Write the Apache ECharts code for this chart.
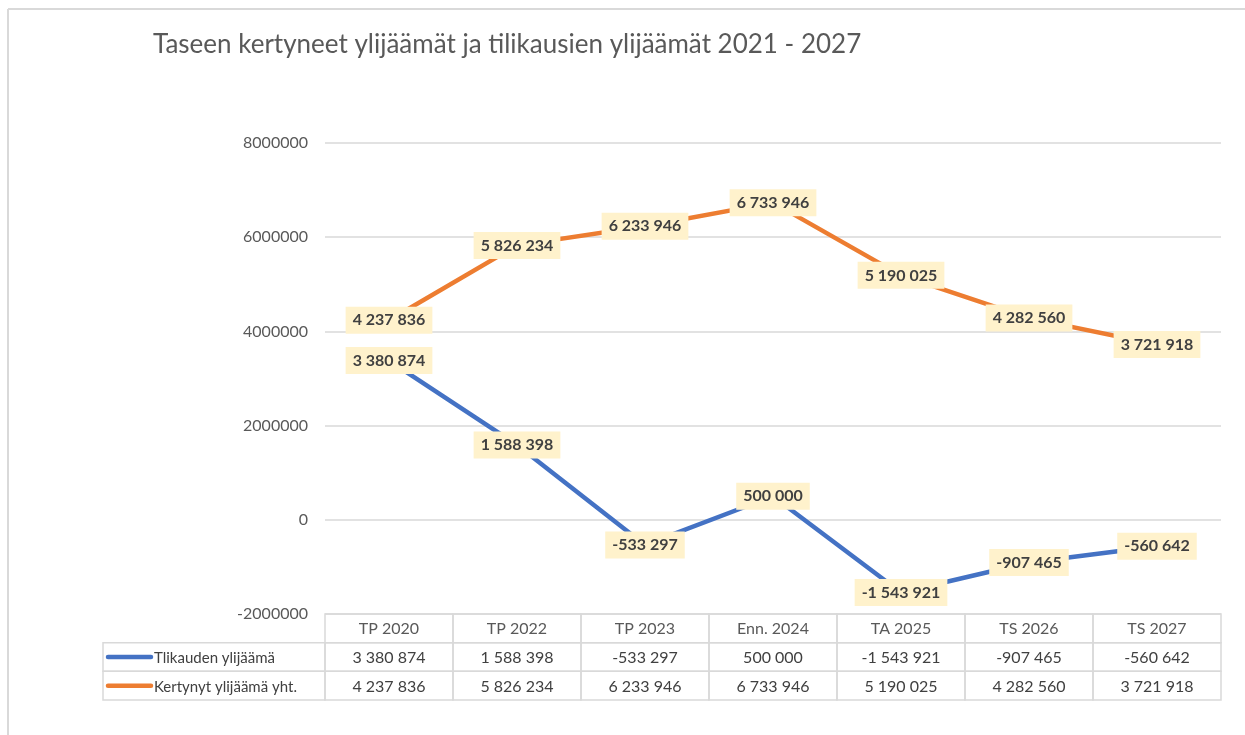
<!DOCTYPE html>
<html lang="fi">
<head>
    <meta charset="UTF-8">
    <title>Taseen kertyneet ylijäämät</title>
    <script src="https://cdn.jsdelivr.net/npm/echarts@6/dist/echarts.min.js"></script>
    <style type="text/css">
        html, body { margin: 0; padding: 0; background: #fff; }
    </style>
</head>
<body>
<div id="main" style="width: 1245px;height:735px;"></div>

<script>
    // data
    var categories = ['TP 2020', 'TP 2022', 'TP 2023', 'Enn. 2024', 'TA 2025', 'TS 2026', 'TS 2027'];
    var seriesNames = ['Tlikauden ylijäämä', 'Kertynyt ylijäämä yht.'];
    var tilikausi = [3380874, 1588398, -533297, 500000, -1543921, -907465, -560642];
    var kertynyt = [4237836, 5826234, 6233946, 6733946, 5190025, 4282560, 3721918];
    var yTicks = [-2000000, 0, 2000000, 4000000, 6000000, 8000000];

    var colors = ['#4472C4', '#ED7D31'];
    var font = 'Lato, "Liberation Sans", sans-serif';

    // 1 234 567 muotoilu
    function fmt(v) {
        var s = Math.abs(v).toString().replace(/\B(?=(\d{3})+(?!\d))/g, ' ');
        return (v < 0 ? '-' : '') + s;
    }

    // taulukon solut: [sarake, rivi]
    var cellData = [];
    var cellInfo = [];
    categories.forEach(function (c, i) {
        cellData.push([i, 0]);
        cellInfo.push({text: c, color: '#595959'});
    });
    [tilikausi, kertynyt].forEach(function (arr, r) {
        cellData.push([0, r + 1]);
        cellInfo.push({text: seriesNames[r], legend: true, color: colors[r]});
        arr.forEach(function (v, i) {
            cellData.push([i, r + 1]);
            cellInfo.push({text: fmt(v), color: '#404040'});
        });
    });

    var legendWidth = 222;

    function renderCell(params, api) {
        var info = cellInfo[params.dataIndex];
        var pt = api.coord([api.value(0), api.value(1)]);
        var size = api.size([1, 1]);
        var w = size[0], h = size[1];
        var x0 = pt[0] - w / 2, y0 = pt[1] - h / 2;
        var children = [];
        if (info.legend) {
            x0 = params.coordSys.x - legendWidth;
            w = legendWidth;
            children.push({
                type: 'line',
                shape: {x1: x0 + 5, y1: pt[1], x2: x0 + 48, y2: pt[1]},
                style: {stroke: info.color, lineWidth: 4.5, lineCap: 'round'}
            });
            children.push({
                type: 'text',
                style: {
                    text: info.text, x: x0 + 51, y: pt[1] + 1,
                    align: 'left', verticalAlign: 'middle',
                    fill: '#404040', fontSize: 15, fontFamily: font
                }
            });
        } else {
            children.push({
                type: 'text',
                style: {
                    text: info.text, x: pt[0], y: pt[1] + 1,
                    align: 'center', verticalAlign: 'middle',
                    fill: info.color, fontSize: 16, fontFamily: font
                }
            });
        }
        children.unshift({
            type: 'rect',
            shape: {x: x0, y: y0, width: w, height: h},
            style: {fill: 'none', stroke: '#d9d9d9', lineWidth: 1.5}
        });
        return {type: 'group', children: children};
    }

    var labelStyle = {
        show: true,
        position: 'inside',
        formatter: function (p) { return fmt(p.value); },
        backgroundColor: '#FFF2CC',
        padding: [6, 7, 5, 7],
        color: '#404040',
        fontWeight: 'bold',
        fontSize: 16,
        fontFamily: font
    };

    var myChart = echarts.init(document.getElementById('main'));
    var option = {
        backgroundColor: '#fff',
        animation: false,
        title: {
            text: 'Taseen kertyneet ylijäämät ja tilikausien ylijäämät 2021 - 2027',
            left: 148,
            top: 27,
            textStyle: {color: '#595959', fontSize: 26, fontWeight: 'normal', fontFamily: font}
        },
        graphic: [
            {type: 'line', shape: {x1: 8, y1: 9, x2: 1245, y2: 9}, style: {stroke: '#d9d9d9', lineWidth: 2}},
            {type: 'line', shape: {x1: 8, y1: 9, x2: 8, y2: 735}, style: {stroke: '#d9d9d9', lineWidth: 2}}
        ],
        grid: [
            {left: 325, right: 24, top: 143, bottom: 121},
            {left: 325, right: 24, top: 614, height: 86}
        ],
        xAxis: [
            {
                type: 'category', gridIndex: 0, data: categories, boundaryGap: true,
                axisLine: {show: false}, axisTick: {show: false}, axisLabel: {show: false}
            },
            {
                type: 'category', gridIndex: 1, data: categories,
                axisLine: {show: false}, axisTick: {show: false}, axisLabel: {show: false}
            }
        ],
        yAxis: [
            {
                type: 'value', gridIndex: 0,
                min: yTicks[0], max: yTicks[yTicks.length - 1], interval: 2000000,
                axisLine: {show: false}, axisTick: {show: false},
                axisLabel: {
                    color: '#595959', fontSize: 16, fontFamily: font, margin: 17,
                    formatter: function (v) { return String(v); }
                },
                splitLine: {lineStyle: {color: '#d9d9d9', width: 1.5}}
            },
            {
                type: 'category', gridIndex: 1, data: ['', seriesNames[0], seriesNames[1]], inverse: true,
                axisLine: {show: false}, axisTick: {show: false}, axisLabel: {show: false},
                splitLine: {show: false}
            }
        ],
        series: [
            {
                name: seriesNames[0],
                type: 'line',
                data: tilikausi,
                xAxisIndex: 0, yAxisIndex: 0,
                symbol: 'circle', symbolSize: 1,
                itemStyle: {color: colors[0]},
                lineStyle: {color: colors[0], width: 4.5},
                label: labelStyle,
                z: 3
            },
            {
                name: seriesNames[1],
                type: 'line',
                data: kertynyt,
                xAxisIndex: 0, yAxisIndex: 0,
                symbol: 'circle', symbolSize: 1,
                itemStyle: {color: colors[1]},
                lineStyle: {color: colors[1], width: 4.5},
                label: labelStyle,
                z: 4
            },
            {
                name: 'taulukko',
                type: 'custom',
                xAxisIndex: 1, yAxisIndex: 1,
                clip: false,
                silent: true,
                renderItem: renderCell,
                data: cellData
            }
        ]
    };
    myChart.setOption(option);
</script>
</body>
</html>
